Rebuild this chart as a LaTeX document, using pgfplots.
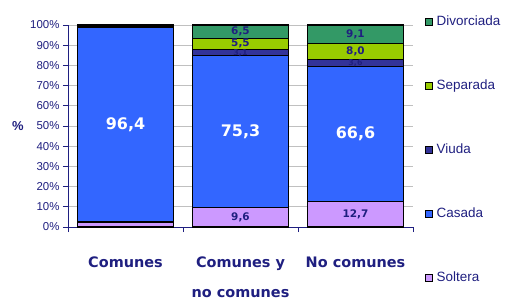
\documentclass[border=0pt]{standalone}
\usepackage{pgfplots}
\pgfplotsset{compat=1.18}
\usepackage{pgfplotstable}
\usepackage{fontspec}
\setmainfont{Liberation Sans}
\newfontfamily\dv{DejaVu Sans}
\definecolor{navy}{HTML}{1F1F80}
\definecolor{csol}{HTML}{CC99FF}
\definecolor{ccas}{HTML}{3366FF}
\definecolor{cviu}{HTML}{333399}
\definecolor{csep}{HTML}{99CC00}
\definecolor{cdiv}{HTML}{339966}
\definecolor{gridgray}{HTML}{C0C0C0}
\begin{document}
\begin{tikzpicture}
\path[use as bounding box] (-68bp,-75bp) rectangle (448bp,227bp);
\begin{axis}[
  at={(0,0)}, anchor=south west,
  scale only axis, width=345bp, height=202bp,
  ybar stacked, bar width=0.84,
  xmin=-0.5, xmax=2.5, ymin=0, ymax=100,
  axis x line*=bottom, axis y line*=left,
  axis line style={navy, line width=0.8bp},
  tick style={navy, line width=0.8bp},
  tick align=outside,
  major tick length=5bp,
  ytick={0,10,...,100},
  yticklabel={\pgfmathprintnumber{\tick}\%},
  /pgf/number format/assume math mode=true,
  yticklabel style={font=\fontsize{11.5}{12}\selectfont, text=navy},
  xtick={-0.5,0.5,1.5,2.5},
  xticklabels={},
  extra x ticks={0,1,2},
  extra x tick labels={Comunes,{Comunes y\\[16bp]no comunes},No comunes},
  extra x tick style={major tick length=0pt, tick style={draw=none},
    xticklabel style={align=center, anchor=north, yshift=-26bp,
      font=\dv\bfseries\fontsize{14.5}{14.5}\selectfont, text=navy}},
  ymajorgrids, grid style={gridgray, line width=0.8bp},
  ylabel={\textbf{\%}},
  ylabel style={at={(axis description cs:-0.145,0.5)}, anchor=center, rotate=-90,
    font=\fontsize{13}{13}\selectfont, text=navy},
  reverse legend,
  legend cell align=left,
  legend image code/.code={\draw[#1, line width=0.8bp] (0bp,-3.5bp) rectangle (7bp,3.5bp);},
  legend style={draw=none, fill=none, at={(axis description cs:1.034,1.055)}, anchor=north west,
    row sep=48bp, column sep=2bp, inner sep=0pt,
    nodes={text height=9bp, text depth=3bp, inner sep=2bp, font=\fontsize{13.5}{13.5}\selectfont, text=navy}},
]
\addplot[fill=csol, draw=black, line width=1.2bp] coordinates {(0,2.5) (1,9.6) (2,12.7)};
\addlegendentry{Soltera}
\addplot[fill=ccas, draw=black, line width=1.2bp] coordinates {(0,96.4) (1,75.3) (2,66.6)};
\addlegendentry{Casada}
\addplot[fill=cviu, draw=black, line width=1.2bp] coordinates {(0,0.5) (1,3.1) (2,3.6)};
\addlegendentry{Viuda}
\addplot[fill=csep, draw=black, line width=1.2bp] coordinates {(0,0.2) (1,5.5) (2,8.0)};
\addlegendentry{Separada}
\addplot[fill=cdiv, draw=black, line width=1.2bp] coordinates {(0,0.4) (1,6.5) (2,9.1)};
\addlegendentry{Divorciada}
\end{axis}
\begin{axis}[
  at={(0,0)}, anchor=south west,
  scale only axis, width=345bp, height=202bp,
  xmin=-0.5, xmax=2.5, ymin=0, ymax=100,
  hide axis, clip=false,
]
\addplot[draw=none, nodes near coords, point meta=explicit symbolic,
  every node near coord/.append style={anchor=center, text=white,
    font=\dv\bfseries\fontsize{16}{16}\selectfont}]
  table[meta=lab] {
x y lab
0 50.7 {96,4}
1 47.25 {75,3}
2 46 {66,6}
};
\addplot[draw=none, nodes near coords, point meta=explicit symbolic,
  every node near coord/.append style={anchor=center, text=navy,
    font=\dv\bfseries\fontsize{10.5}{10.5}\selectfont}]
  table[meta=lab] {
x y lab
1 4.8 {9,6}
1 90.75 {5,5}
1 96.75 {6,5}
2 6.35 {12,7}
2 86.9 {8,0}
2 95.45 {9,1}
};
\addplot[draw=none, nodes near coords, point meta=explicit symbolic,
  every node near coord/.append style={anchor=center, text=navy, inner sep=0pt,
    font=\dv\bfseries\fontsize{8}{8}\selectfont}]
  table[meta=lab] {
x y lab
1 86.2 {3,1}
2 81.0 {3,6}
};
\end{axis}
\end{tikzpicture}
\end{document}
